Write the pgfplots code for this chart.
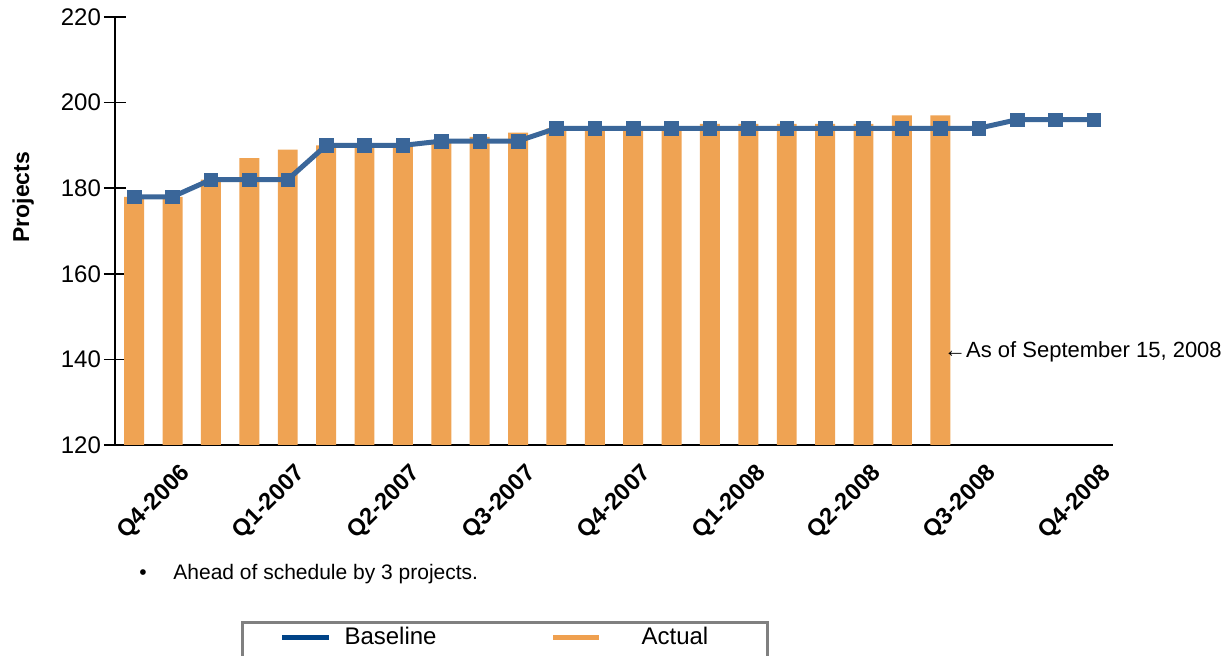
\documentclass[border=0pt]{standalone}
\usepackage{pgfplots}
\pgfplotsset{compat=1.18}
\usepackage{fontspec}
\setmainfont{Liberation Sans}
\definecolor{barorange}{HTML}{EFA353}
\definecolor{lineblue}{HTML}{3A6699}
\definecolor{legblue}{HTML}{004387}
\definecolor{legorange}{HTML}{EFA04F}
\begin{document}
\begin{tikzpicture}
\begin{axis}[
  scale only axis, width=499pt, height=214pt,
  xmin=-0.5, xmax=25.5, ymin=120, ymax=220,
  axis x line=bottom, axis y line=left,
  axis line style={-, line width=0.8pt, black},
  xtick={1.5,4.5,7.5,10.5,13.5,16.5,19.5,22.5,25.5},
  xticklabels={Q4-2006,Q1-2007,Q2-2007,Q3-2007,Q4-2007,Q1-2008,Q2-2008,Q3-2008,Q4-2008},
  x tick style={draw=none},
  ytick={120,140,160,180,200,220},
  y tick style={line width=0.8pt, black},
  tick align=center, major tick length=11pt,
  /pgf/number format/assume math mode=true,
  yticklabel style={font=\fontsize{12}{14}\selectfont, xshift=2pt},
  xticklabel style={font=\bfseries\fontsize{11.8}{13}\selectfont, xshift=0pt, yshift=-4.5pt, rotate=45, anchor=east},
  ylabel={Projects},
  ylabel style={font=\bfseries\fontsize{11.5}{13}\selectfont, at={(axis description cs:-0.092,0.579)}, anchor=center},
  legend columns=2,
  legend style={at={(axis description cs:0.1263,-0.411)}, anchor=north west,
    draw=gray, line width=1.5pt, font=\fontsize{12}{14}\selectfont,
    inner xsep=18.5pt, inner ysep=0.5pt,
    /tikz/column 1/.style={column sep=4.5pt},
    /tikz/column 2/.style={column sep=55pt},
    /tikz/column 3/.style={column sep=18pt}},
]
\addlegendimage{legend image code/.code={\draw[legblue, line width=2.5pt] (0pt,0pt) -- (23.5pt,0pt);}}
\addlegendentry{Baseline}
\addlegendimage{legend image code/.code={\draw[legorange, line width=2.5pt] (0pt,0pt) -- (23pt,0pt);}}
\addlegendentry{Actual\rule{9pt}{0pt}}
\addlegendimage{empty legend}
\addlegendentry{\rule{0pt}{14pt}}
\addlegendimage{empty legend}
\addlegendentry{\rule{0pt}{14pt}}

\addplot[ybar, bar width=0.52, fill=barorange, draw=none, forget plot] coordinates {
(0,178)(1,178)(2,182)(3,187)(4,189)(5,190)(6,190)(7,190)(8,191)(9,192)(10,193)
(11,194)(12,194)(13,194)(14,194)(15,195)(16,195)(17,195)(18,195)(19,195)(20,197)(21,197)};

\addplot[lineblue, line width=2.5pt, mark=square*, mark size=3.4pt,
  mark options={solid, line width=0.3pt, fill=lineblue}, forget plot] coordinates {
(0,178)(1,178)(2,182)(3,182)(4,182)(5,190)(6,190)(7,190)(8,191)(9,191)(10,191)
(11,194)(12,194)(13,194)(14,194)(15,194)(16,194)(17,194)(18,194)(19,194)(20,194)
(21,194)(22,194)(23,196)(24,196)(25,196)};

\coordinate (O) at (rel axis cs:0,0);
\coordinate (ann) at (axis cs:21.09,141.7);
\end{axis}
\node[anchor=west, inner sep=0pt, font=\fontsize{11}{13}\selectfont] at (ann) {←As of September 15, 2008};
\node[anchor=base, inner sep=0pt, font=\fontsize{10.5}{12}\selectfont] at ([xshift=14pt,yshift=-67.5pt]O) {•};
\node[anchor=base west, inner sep=0pt, font=\fontsize{10.5}{12}\selectfont] at ([xshift=29pt,yshift=-67.5pt]O) {Ahead of schedule by 3 projects.};
\pgfresetboundingbox
\path[use as bounding box] ([xshift=-57.5pt,yshift=-105.5pt]O) rectangle ([xshift=557.5pt,yshift=222.5pt]O);
\end{tikzpicture}
\end{document}
